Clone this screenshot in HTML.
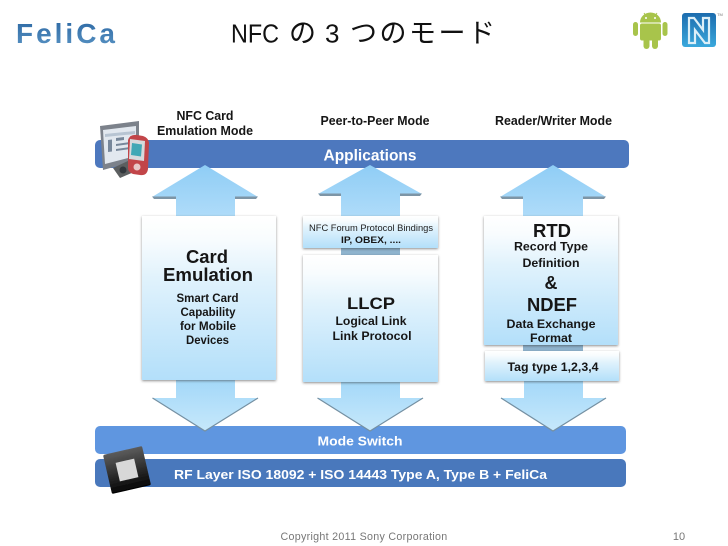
<!DOCTYPE html>
<html><head><meta charset="utf-8">
<style>
html,body{margin:0;padding:0;background:#fff;width:728px;height:546px;overflow:hidden}
svg{display:block}
text{font-family:"Liberation Sans",sans-serif;text-anchor:middle}
.b{font-weight:bold;fill:#161616}
.w{font-weight:bold;fill:#fff}
</style></head><body>
<svg width="728" height="546" viewBox="0 0 728 546" xmlns="http://www.w3.org/2000/svg">
<defs>
<linearGradient id="ar" x1="0" y1="0" x2="0" y2="1"><stop offset="0" stop-color="#8fcdf5"/><stop offset="1" stop-color="#b4defa"/></linearGradient>
<linearGradient id="ad" x1="0" y1="0" x2="0" y2="1"><stop offset="0" stop-color="#a0d6f8"/><stop offset="1" stop-color="#c6e8fb"/></linearGradient>
<linearGradient id="bx" x1="0" y1="0" x2="0" y2="1"><stop offset="0" stop-color="#ffffff"/><stop offset=".14" stop-color="#f8fcfe"/><stop offset=".38" stop-color="#e0f2fc"/><stop offset="1" stop-color="#b3dffa"/></linearGradient>
<linearGradient id="fe" x1="0" y1="0" x2="0" y2="1"><stop offset="0" stop-color="#2a66a2"/><stop offset="1" stop-color="#5a94c4"/></linearGradient>
<linearGradient id="nm" x1="0" y1="0" x2="0" y2="1"><stop offset="0" stop-color="#1c6cae"/><stop offset="1" stop-color="#3aa8dc"/></linearGradient>
<linearGradient id="ch" x1="0" y1="0" x2="0" y2="1"><stop offset="0" stop-color="#5c5c5c"/><stop offset="1" stop-color="#040404"/></linearGradient>
<filter id="s" x="-10%" y="-10%" width="120%" height="120%"><feDropShadow dx="0" dy="1" stdDeviation="1.300" flood-color="#333" flood-opacity=".55"/></filter>
<filter id="soft"><feGaussianBlur stdDeviation=".35"/></filter>
</defs>

<!-- Header -->
<text x="16" y="43" style="font-size:28px;font-weight:bold;text-anchor:start" fill="url(#fe)" textLength="99" lengthAdjust="spacing">FeliCa</text>
<text y="42.500" style="font-family:'Liberation Sans','Noto Sans CJK JP',sans-serif;font-size:26px;text-anchor:start" fill="#111"><tspan x="231" textLength="48" lengthAdjust="spacingAndGlyphs">NFC</tspan><tspan x="289" style="font-size:27px">の</tspan><tspan x="325" style="font-size:26px">3</tspan><tspan x="350" style="font-size:27px;letter-spacing:2.500px">つのモード</tspan></text>

<!-- Android -->
<g fill="#a8c44c" filter="url(#soft)">
<path d="M640 22.500a10.500 10 0 0 1 21 0z"/>
<rect x="640" y="23.500" width="21" height="17" rx="2"/>
<rect x="633" y="22" width="5" height="14" rx="2.500"/>
<rect x="662.500" y="22" width="5" height="14" rx="2.500"/>
<rect x="643.500" y="38" width="6" height="11" rx="3"/>
<rect x="652" y="38" width="6" height="11" rx="3"/>
<path d="M644 13l2 3M657 13l-2 3" stroke="#a8c44c" stroke-width="1"/>
</g>
<circle cx="646" cy="18" r="1" fill="#fff"/><circle cx="655" cy="18" r="1" fill="#fff"/>

<!-- N-Mark -->
<rect x="682" y="13" width="34" height="34" rx="3" fill="url(#nm)"/>
<path d="M689 18h5l9 12v-12h6v25h-4l-10-13v13h-6z" fill="none" stroke="#dceff8" stroke-width="2.200"/>
<text x="720" y="16" style="font-size:4px" fill="#777">TM</text>

<g filter="url(#soft)">
<!-- Column labels -->
<text class="b" x="205" y="120" style="font-size:12.500px" textLength="57" lengthAdjust="spacingAndGlyphs">NFC Card</text>
<text class="b" x="205" y="135" style="font-size:12.500px" textLength="96" lengthAdjust="spacingAndGlyphs">Emulation Mode</text>
<text class="b" x="375" y="125" style="font-size:12.500px" textLength="109" lengthAdjust="spacingAndGlyphs">Peer-to-Peer Mode</text>
<text class="b" x="553.500" y="125" style="font-size:12.500px" textLength="117" lengthAdjust="spacingAndGlyphs">Reader/Writer Mode</text>

<!-- Applications bar -->
<rect x="95" y="140" width="534" height="28" rx="5" fill="#4e78be"/>
<text class="w" x="370" y="160.500" style="font-size:15.500px" textLength="93" lengthAdjust="spacingAndGlyphs">Applications</text>

<!-- Mode switch / RF -->
<rect x="95" y="426" width="531" height="28" rx="5" fill="#5f96e0"/>
<rect x="95" y="459" width="531" height="28" rx="5" fill="#4a78bc"/>

<!-- Up arrows -->
<path d="M205 165L258 197H235V225H176V197H152Z" fill="url(#ar)"/>
<path d="M152 196.500H176V199H154ZM235 196.500H258L256 199H235Z" fill="#7d95a6"/>
<path d="M370 165L422 194H400V225H341V194H318Z" fill="url(#ar)"/>
<path d="M318 193.500H341V196H320ZM400 193.500H422L420 196H400Z" fill="#7d95a6"/>
<path d="M553 165L606 197H583V225H523V197H500Z" fill="url(#ar)"/>
<path d="M500 196.500H523V199H502ZM583 196.500H606L604 199H583Z" fill="#7d95a6"/>

<!-- Down arrows -->
<path d="M176 375H235V398H258L205 431L152.500 398H176Z" fill="url(#ad)"/>
<path d="M341 375H400V398H423L370 431L317.500 398H341Z" fill="url(#ad)"/>
<path d="M524 375H583V398H606L553 431L501 398H524Z" fill="url(#ad)"/>
<path d="M152.500 398L205 431L258 398" fill="none" stroke="#7590a2" stroke-width="1.200"/>
<path d="M317.500 398L370 431L423 398" fill="none" stroke="#7590a2" stroke-width="1.200"/>
<path d="M501 398L553 431L606 398" fill="none" stroke="#7590a2" stroke-width="1.200"/>

<!-- Connector shafts -->
<rect x="341" y="247" width="59" height="9" fill="#8fb4ce"/>
<rect x="523" y="344" width="60" height="8" fill="#8fb4ce"/>

<!-- Boxes -->
<rect x="142" y="216" width="134" height="164" fill="url(#bx)" filter="url(#s)"/>
<rect x="303" y="216" width="135" height="32" fill="url(#bx)" filter="url(#s)"/>
<rect x="303" y="255" width="135" height="127" fill="url(#bx)" filter="url(#s)"/>
<rect x="484" y="216" width="134" height="129" fill="url(#bx)" filter="url(#s)"/>
<rect x="485" y="351" width="134" height="30" fill="url(#bx)" filter="url(#s)"/>

<!-- Card Emulation -->
<text class="b" x="207" y="263" style="font-size:18px" textLength="42" lengthAdjust="spacingAndGlyphs">Card</text>
<text class="b" x="208" y="281" style="font-size:18px" textLength="90" lengthAdjust="spacingAndGlyphs">Emulation</text>
<text class="b" x="207.500" y="302" style="font-size:11.500px" textLength="62" lengthAdjust="spacingAndGlyphs">Smart Card</text>
<text class="b" x="208" y="316" style="font-size:11.500px" textLength="55" lengthAdjust="spacingAndGlyphs">Capability</text>
<text class="b" x="208" y="330" style="font-size:11.500px" textLength="56" lengthAdjust="spacingAndGlyphs">for Mobile</text>
<text class="b" x="207.500" y="344" style="font-size:11.500px" textLength="43" lengthAdjust="spacingAndGlyphs">Devices</text>

<!-- P2P -->
<text x="371" y="231" style="font-size:9.500px" fill="#222" textLength="124" lengthAdjust="spacingAndGlyphs">NFC Forum Protocol Bindings</text>
<text class="b" x="371" y="243" style="font-size:9px" textLength="60" lengthAdjust="spacingAndGlyphs">IP, OBEX, ....</text>
<text class="b" x="371" y="309" style="font-size:17px" textLength="48" lengthAdjust="spacingAndGlyphs">LLCP</text>
<text class="b" x="371" y="325" style="font-size:12px" textLength="71" lengthAdjust="spacingAndGlyphs">Logical Link</text>
<text class="b" x="372" y="340" style="font-size:12px" textLength="79" lengthAdjust="spacingAndGlyphs">Link Protocol</text>

<!-- RTD -->
<text class="b" x="552" y="237" style="font-size:18px" textLength="38" lengthAdjust="spacingAndGlyphs">RTD</text>
<text class="b" x="551" y="250.500" style="font-size:12px" textLength="74" lengthAdjust="spacingAndGlyphs">Record Type</text>
<text class="b" x="551" y="267" style="font-size:12px" textLength="57" lengthAdjust="spacingAndGlyphs">Definition</text>
<text class="b" x="551" y="289" style="font-size:18px">&amp;</text>
<text class="b" x="552" y="311" style="font-size:18px" textLength="50" lengthAdjust="spacingAndGlyphs">NDEF</text>
<text class="b" x="551" y="328" style="font-size:12px" textLength="89" lengthAdjust="spacingAndGlyphs">Data Exchange</text>
<text class="b" x="551" y="342" style="font-size:12px" textLength="42" lengthAdjust="spacingAndGlyphs">Format</text>
<text class="b" x="553" y="371" style="font-size:12px" textLength="91" lengthAdjust="spacingAndGlyphs">Tag type 1,2,3,4</text>

<!-- Bar labels -->
<text class="w" x="360" y="445.500" style="font-size:13px" textLength="85" lengthAdjust="spacingAndGlyphs">Mode Switch</text>
<text class="w" x="360.500" y="479" style="font-size:13px" textLength="373" lengthAdjust="spacingAndGlyphs">RF Layer ISO 18092 + ISO 14443 Type A, Type B + FeliCa</text>

<!-- Chip -->
<g transform="rotate(-13 127 470)">
<rect x="107" y="450" width="40" height="40" rx="1.500" fill="url(#ch)"/>
<rect x="117.500" y="460.500" width="19" height="19" fill="#d8d8d8"/>
</g>

<!-- Devices icon -->
<path d="M100 126L139 121V160L103 170Z" fill="#7b828b"/>
<path d="M103 130L136 126V156L105 164Z" fill="#e2e8ef"/>
<path d="M105 134l30-3v3l-30 3z" fill="#b7c4d2"/>
<path d="M108 140l4-.5v12l-4 .5zM116 138l8-1v3l-8 1zM116 144l14-2v2l-14 2zM116 149l14-2v2l-14 2z" fill="#77879a"/>
<path d="M113 168l17-8 4 12-14 6z" fill="#5c5f60"/>
<circle cx="123" cy="170" r="3.500" fill="#33383c"/>
<path d="M128 140q2-6 9-5l6 1q6 2 6 8l-1 25q-1 7-8 6l-7-1q-5-2-5-6z" fill="#c2454a"/>
<path d="M130 139l15 2-1 20-15-2z" fill="#d7d9dc"/>
<path d="M132 143l10 1.500-1 12-10-1.500z" fill="#3fa7b5"/>
<circle cx="137" cy="167" r="3.500" fill="#e8c8c8"/>
</g>

<!-- Footer -->
<text x="364" y="540" style="font-size:11px;letter-spacing:.3px" fill="#777" textLength="167" lengthAdjust="spacingAndGlyphs">Copyright  2011 Sony Corporation</text>
<text x="679" y="540" style="font-size:11px" fill="#777">10</text>
</svg>
</body></html>
